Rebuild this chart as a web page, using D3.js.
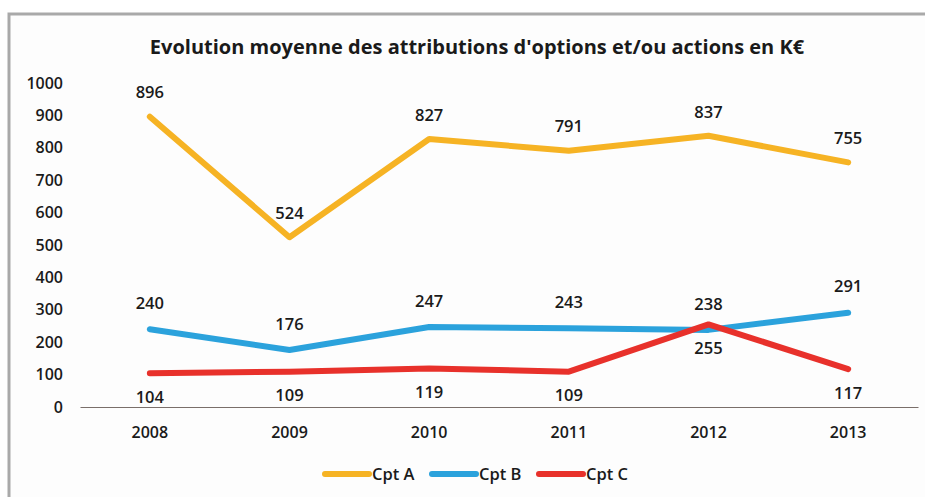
<!DOCTYPE html>
<html>
<head>
<meta charset="utf-8">
<script src="https://cdn.jsdelivr.net/npm/d3@7"></script>
<style>
  body { margin: 0; background: #fff; }
  svg text { font-family: "Open Sans", "Noto Sans", sans-serif; fill: #1a1a1a; }
</style>
</head>
<body>
<svg id="chart" width="925" height="497"></svg>
<script>
// chart data
var years = ['2008', '2009', '2010', '2011', '2012', '2013'];
var cptA = [896, 524, 827, 791, 837, 755];
var cptB = [240, 176, 247, 243, 238, 291];
var cptC = [104, 109, 119, 109, 255, 117];
var yTicks = [0, 100, 200, 300, 400, 500, 600, 700, 800, 900, 1000];
var seriesNames = ['Cpt A', 'Cpt B', 'Cpt C'];

var colors = ['#f6b324', '#2ba2dc', '#e8312b'];
// label offsets: A and B above the point, C below
var labelDy = [-24, -26, 24];

var svg = d3.select('#chart');

// frame
svg.append('rect')
  .attr('x', 9).attr('y', 14)
  .attr('width', 930).attr('height', 500)
  .attr('fill', '#fdfdfd')
  .attr('stroke', '#a9a9a9')
  .attr('stroke-width', 3);

svg.append('text')
  .attr('x', 477).attr('y', 54)
  .attr('text-anchor', 'middle')
  .style('font-size', '20px')
  .style('font-weight', 'bold')
  .text("Evolution moyenne des attributions d'options et/ou actions en K€");

var x = d3.scaleBand().domain(years).range([80, 918]);
var y = d3.scaleLinear().domain([0, 1000]).range([407, 83]);

// y axis labels (no line)
var yAxis = svg.append('g')
  .attr('transform', 'translate(63,0)')
  .call(d3.axisLeft(y).tickValues(yTicks).tickFormat(d3.format('d')).tickSize(0).tickPadding(0));
yAxis.select('.domain').remove();
yAxis.selectAll('text')
  .style('font-size', '16px')
  .style('font-weight', '600')
  .attr('fill', '#1a1a1a');

// x axis
var xAxis = svg.append('g')
  .attr('transform', 'translate(0,' + y(0) + ')')
  .call(d3.axisBottom(x).tickSize(0).tickPadding(20));
xAxis.select('.domain').attr('stroke', '#7a6f6a').attr('stroke-width', 1.2);
xAxis.selectAll('text')
  .style('font-size', '16px')
  .style('font-weight', '600')
  .attr('fill', '#1a1a1a');

var line = d3.line()
  .x(function(d, i) { return x(years[i]) + x.bandwidth() / 2; })
  .y(function(d) { return y(d); });

[cptA, cptB, cptC].forEach(function(vals, s) {
  svg.append('path')
    .datum(vals)
    .attr('d', line)
    .attr('fill', 'none')
    .attr('stroke', colors[s])
    .attr('stroke-width', 6)
    .attr('stroke-linejoin', 'round')
    .attr('stroke-linecap', 'round');
});

[cptA, cptB, cptC].forEach(function(vals, s) {
  svg.append('g').selectAll('text')
    .data(vals)
    .enter().append('text')
    .attr('x', function(d, i) { return x(years[i]) + x.bandwidth() / 2; })
    .attr('y', function(d) { return y(d) + labelDy[s]; })
    .attr('dy', '0.35em')
    .attr('text-anchor', 'middle')
    .style('font-size', '16.5px')
    .style('font-weight', '600')
    .text(function(d) { return d; });
});

// legend
var legend = svg.append('g').attr('transform', 'translate(323,474)');
var legX = [0, 107, 214];
seriesNames.forEach(function(name, i) {
  var g = legend.append('g').attr('transform', 'translate(' + legX[i] + ',0)');
  g.append('line')
    .attr('x1', 2).attr('x2', 46)
    .attr('y1', 0).attr('y2', 0)
    .attr('stroke', colors[i])
    .attr('stroke-width', 6)
    .attr('stroke-linecap', 'round');
  g.append('text')
    .attr('x', 49).attr('y', 0)
    .attr('dy', '0.35em')
    .style('font-size', '16.5px')
    .style('font-weight', '600')
    .text(name);
});
</script>
</body>
</html>
